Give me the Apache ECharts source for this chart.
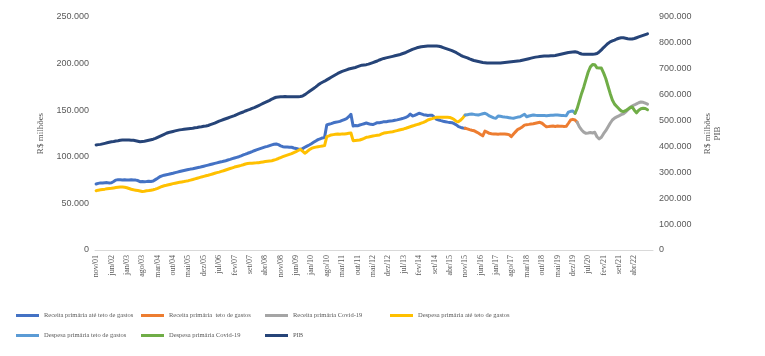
<!DOCTYPE html>
<html>
<head>
<meta charset="utf-8">
<script src="https://cdn.jsdelivr.net/npm/echarts@6/dist/echarts.min.js"></script>
<style>
html,body{margin:0;padding:0;background:#fff;}
#chart{width:765px;height:356px;}
</style>
</head>
<body>
<div id="chart"></div>
<script>
// Month abbreviations for category labels (nov/01 ... dez/22)
const monthAbbr = ['jan','fev','mar','abr','mai','jun','jul','ago','set','out','nov','dez'];
const categoryCount = 254;
const lastLabelIndex = 245; // abr/22
const labelStep = 7;

// Series names
const seriesNames = [
  'Receita primária até teto de gastos',
  'Receita primária  teto de gastos',
  'Receita primária Covid-19',
  'Despesa primária até teto de gastos',
  'Despesa primária teto de gastos',
  'Despesa primária Covid-19',
  'PIB'
];

// R$ milhões — Receita primária até teto de gastos (nov/01 .. nov/15)
const receitaAteTetoStart = 0;
const receitaAteTeto = [
  70800, 71500, 72000, 72000, 72200, 72300, 72000, 72200,
  73500, 75000,
  75500, 75300, 75100, 75400, 75200, 75000, 75300, 75100, 75000, 74500,
  73300, 73500, 73200, 73400, 73800, 73600,
  74000, 75500, 77000, 78600,
  79500, 80300, 80800, 81200, 81800, 82300,
  83000, 83600, 84200, 84800, 85300, 85800,
  86300, 86800, 87200, 87700, 88200, 88700,
  89300, 89900, 90500, 91100, 91700, 92300,
  92900, 93500, 94100, 94600, 95200, 95800,
  96500, 97200, 98000, 98700, 99400, 100100,
  101000, 102000, 102800, 103800, 104600, 105500,
  106500, 107400, 108200, 109000, 109800, 110600,
  111200, 112000, 112800, 113400, 113700, 113000,
  111800, 110800, 110500, 110600, 110300, 110200,
  109500, 109000, 108400, 107900, 108800, 110200,
  111500, 112700, 114000, 115500, 117000, 118400,
  119300, 120200, 121000, 134100,
  135000, 135600, 136500, 137000, 137500, 138000,
  139000, 140000, 141000, 143000, 145500, 133000,
  133500, 133200, 134100, 134800, 135500, 136200,
  135500, 134800, 134600, 135500, 136600, 136600,
  137000, 137700, 137500, 138200, 138500, 138700,
  139200, 139600, 140200, 140800, 141500, 142400,
  143500, 145900, 143800, 144500, 145500, 146700,
  146000, 145200, 144800, 144300, 144700, 144500,
  142500, 140200, 139500, 138800, 138200, 137700,
  137200, 136900, 136600, 135500, 134200, 132300,
  131500, 131000, 130600
];

// R$ milhões — Receita primária teto de gastos (nov/15 .. jun/20)
const receitaTetoStart = 168;
const receitaTeto = [
  130600,
  130000, 129200, 128500, 128000, 126800, 125500,
  124000, 122500, 127500, 126500, 125200, 124800,
  124500, 124500, 124300, 124600, 124400, 124500,
  124200, 123800, 121600, 124500, 127000, 129500,
  130600, 132000, 134000, 134500, 134800, 135200,
  135500, 136000, 136500, 137000, 136000, 134000,
  132300, 132500, 132800, 133000, 132600, 133000,
  132700, 132900, 132500, 132700, 136000, 139500,
  140200, 139500, 137000
];

// R$ milhões — Receita primária Covid-19 (jun/20 .. out/22)
const receitaCovidStart = 219;
const receitaCovid = [
  137000,
  132000, 128800, 126500, 125200, 125500, 126000,
  125500, 126300, 121500, 119200, 121000, 124800,
  128000, 132000, 136000, 139500, 141500, 142800,
  144000, 145200, 146000, 148000, 150200, 152800,
  154500, 155600, 156800, 158000, 158800, 158500,
  157500, 156500
];

// R$ milhões — Despesa primária até teto de gastos (nov/01 .. nov/15)
const despesaAteTetoStart = 0;
const despesaAteTeto = [
  63600, 64200, 64600, 65000, 65300, 65700, 66000, 66200,
  66600, 67000, 67300, 67600, 67500, 67300,
  66800, 66000, 65200, 64600, 64200, 63800,
  63300, 62800, 63000, 63500, 63800, 64200,
  64600, 65300, 66200, 67200, 68200, 68900,
  69400, 70000, 70600, 71200, 71700, 72200,
  72600, 73000, 73400, 73900, 74400, 75000,
  75600, 76300, 77000, 77700, 78400, 79000,
  79600, 80200, 80900, 81600, 82300, 83000,
  83600, 84300, 85000, 85800, 86600, 87400,
  88200, 89000, 89600, 90200, 90800, 91500,
  92300, 92800, 93000, 93200, 93400, 93500,
  93700, 94100, 94500, 94900, 95200, 95500,
  95800, 96500, 97300, 98200, 99200, 100100,
  101000, 101800, 102600, 103400, 104500, 105600,
  106800, 108000, 106000, 103800, 105500, 107500,
  109000, 109800, 110400, 110800, 111200, 111600,
  112000, 121600, 122400, 123400, 123800, 124200,
  124500, 124200, 124600, 124400, 124800, 125200,
  125500, 117300, 117600, 117800, 118000, 118800,
  119800, 120900, 121300, 121800, 122300, 122700,
  123100, 123400, 124500, 125500, 125900, 126200,
  126500, 126900, 127500, 128100, 128700, 129300,
  129900, 130600, 131400, 132200, 133000, 133800,
  134500, 135200, 136100, 137000, 138000, 139500,
  140300, 141000, 141800, 142400, 142400, 142500,
  142500, 142400, 142400, 142300, 141300, 140000,
  138000, 137700, 139500, 142000, 144800
];

// R$ milhões — Despesa primária teto de gastos (nov/15 .. mai/20)
const despesaTetoStart = 168;
const despesaTeto = [
  144800,
  145200, 145600, 145900, 145500, 145000, 144800,
  145500, 146200, 146700, 145500, 143800, 142800,
  141800, 141300, 143800, 143500, 143000, 142600,
  142400, 142000, 141600, 141300, 142000, 142600,
  143000, 144300, 145600, 143000, 143800, 144300,
  144800, 144500, 144300, 144200, 144300, 144200,
  144100, 144300, 144500, 144600, 144800, 144800,
  144600, 144400, 144200, 144100, 148000, 148800,
  149100, 146700
];

// R$ milhões — Despesa primária Covid-19 (mai/20 .. out/22)
const despesaCovidStart = 218;
const despesaCovid = [
  146700,
  152000, 160000, 168000, 175000, 183000, 191000,
  196500, 199000, 198800, 195500, 195300, 195200,
  190000, 184000, 176000, 168000, 161000, 156500,
  154000, 151500, 149200, 148500, 149500, 151000,
  152500, 153500, 150000, 147200, 150000, 151500,
  152000, 151800, 150500
];

// R$ milhões — PIB (right axis, nov/01 .. out/22)
const pibStart = 0;
const pib = [
  406000, 407000, 408000, 410000, 412000, 414000, 416000, 418000,
  419000, 421000, 422000, 424000, 425000, 425000, 425000, 425000, 424000, 424000,
  422000, 420000, 418000, 419000, 420000, 422000, 424000, 426000,
  428000, 431000, 435000, 439000, 443000, 447000, 451000,
  454000, 456000, 458000, 460000, 462000, 464000,
  465000, 466000, 467000, 468000, 469000, 470000,
  472000, 473000, 475000, 476000, 478000, 479000, 481000, 484000, 487000,
  490000, 494000, 498000, 501000, 504000, 507000, 510000,
  513000, 516000, 519000, 523000, 527000, 530000,
  533000, 537000, 540000, 543000, 547000, 550000,
  554000, 558000, 562000, 566000, 570000, 574000,
  578000, 583000, 587000, 590000, 591000,
  592000, 592000, 593000, 592000, 592000, 592000, 592000, 592000, 592000, 593000, 595000,
  600000, 606000, 612000, 618000, 624000, 630000,
  637000, 643000, 648000, 652000, 657000,
  662000, 667000, 672000, 677000, 682000, 686000, 690000,
  693000, 696000, 699000, 701000, 703000, 705000,
  708000, 711000, 714000, 715000, 716000, 718000,
  721000, 724000, 727000, 730000, 734000, 737000, 740000,
  742000, 744000, 746000, 748000, 750000, 752000, 754000,
  757000, 760000, 763000, 767000, 771000, 775000, 778000, 781000, 783000,
  785000, 786000, 787000, 788000, 788000, 788000, 788000, 788000, 787000, 785000,
  782000, 779000, 776000, 773000, 770000, 766000,
  762000, 757000, 752000, 748000, 745000, 742000, 738000,
  735000, 732000, 730000, 728000, 726000, 724000, 723000, 722000,
  722000, 722000, 722000, 722000, 722000, 722000, 723000, 724000,
  725000, 726000, 727000, 728000, 729000, 730000, 731000,
  733000, 735000, 737000, 739000, 741000, 743000, 745000,
  746000, 747000, 748000, 749000, 749000, 749000, 750000, 750000, 751000,
  753000, 755000, 757000, 759000, 761000, 763000, 764000, 765000, 766000,
  764000, 760000, 757000, 756000, 756000, 756000, 756000, 756000, 757000, 759000,
  765000, 773000, 782000, 790000, 798000, 804000, 808000, 811000,
  815000, 818000, 820000, 820000, 818000, 816000, 815000,
  815000, 817000, 820000, 823000, 826000, 829000, 832000, 835000
];

// Tick values of the two value axes
const leftTicks = { min: 0, max: 250000, step: 50000 };
const rightTicks = { min: 0, max: 900000, step: 100000 };

const colors = ['#4472C4', '#ED7D31', '#A5A5A5', '#FFC000', '#5B9BD5', '#70AD47', '#264478'];

const categories = [];
for (let k = 0; k < categoryCount; k++) {
  const m = (10 + k) % 12;
  const y = 1 + Math.floor((10 + k) / 12);
  categories.push(monthAbbr[m] + '/' + String(y).padStart(2, '0'));
}

function pad(start, arr) {
  return new Array(start).fill(null).concat(arr);
}
function fmt(v) {
  return String(v).replace(/\B(?=(\d{3})+(?!\d))/g, '.');
}

const seriesData = [
  pad(receitaAteTetoStart, receitaAteTeto),
  pad(receitaTetoStart, receitaTeto),
  pad(receitaCovidStart, receitaCovid),
  pad(despesaAteTetoStart, despesaAteTeto),
  pad(despesaTetoStart, despesaTeto),
  pad(despesaCovidStart, despesaCovid),
  pad(pibStart, pib)
];

const legendPos = [
  [16, 312], [141, 312], [265, 312], [390, 312],
  [16, 332], [141, 332], [265, 332]
];

const chart = echarts.init(document.getElementById('chart'), null, { renderer: 'canvas' });
chart.setOption({
  animation: false,
  backgroundColor: '#ffffff',
  color: colors,
  grid: { left: 95, right: 112, top: 17, bottom: 106, containLabel: false },
  legend: seriesNames.map((n, i) => ({
    data: [n],
    left: legendPos[i][0],
    top: legendPos[i][1],
    padding: 0,
    itemWidth: 23,
    itemHeight: 3,
    icon: 'rect',
    selectedMode: false,
    textStyle: { fontFamily: 'Liberation Serif', fontSize: 6.5, color: '#595959' }
  })),
  xAxis: {
    type: 'category',
    data: categories,
    boundaryGap: true,
    axisLine: { lineStyle: { color: '#d9d9d9', width: 1 } },
    axisTick: { show: false },
    axisLabel: {
      interval: (idx) => idx % labelStep === 0 && idx <= lastLabelIndex,
      rotate: 90,
      margin: 5,
      fontFamily: 'Liberation Serif',
      fontSize: 8,
      color: '#595959'
    },
    splitLine: { show: false }
  },
  yAxis: [
    {
      type: 'value',
      min: leftTicks.min, max: leftTicks.max, interval: leftTicks.step,
      name: 'R$ milhões',
      nameLocation: 'middle',
      nameGap: 42,
      nameTextStyle: { fontFamily: 'Liberation Serif', fontSize: 9, color: '#595959' },
      axisLine: { show: false },
      axisTick: { show: false },
      splitLine: { show: false },
      axisLabel: { formatter: fmt, margin: 6, fontFamily: 'Liberation Sans', fontSize: 9, color: '#595959' }
    },
    {
      type: 'value',
      position: 'right',
      min: rightTicks.min, max: rightTicks.max, interval: rightTicks.step,
      name: 'R$ milhões\nPIB',
      nameLocation: 'middle',
      nameGap: 45,
      nameTextStyle: { fontFamily: 'Liberation Serif', fontSize: 9, color: '#595959', lineHeight: 10 },
      axisLine: { show: false },
      axisTick: { show: false },
      splitLine: { show: false },
      axisLabel: { formatter: fmt, margin: 6, fontFamily: 'Liberation Sans', fontSize: 9, color: '#595959' }
    }
  ],
  series: seriesNames.map((n, i) => ({
    name: n,
    type: 'line',
    yAxisIndex: i === 6 ? 1 : 0,
    data: seriesData[i],
    showSymbol: false,
    symbol: 'none',
    connectNulls: false,
    lineStyle: { width: 3, color: colors[i], cap: 'round', join: 'round' },
    itemStyle: { color: colors[i] },
    emphasis: { disabled: true }
  }))
});
</script>
</body>
</html>
